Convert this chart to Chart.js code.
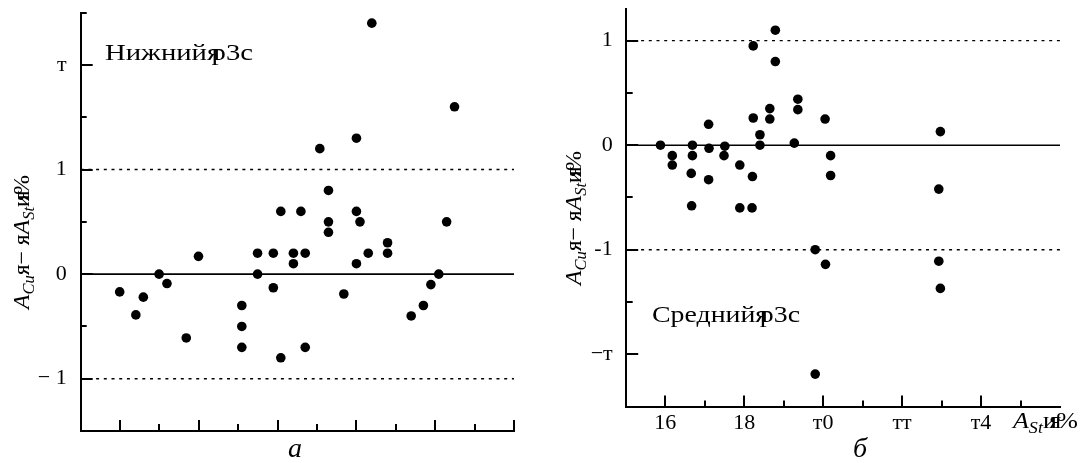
<!DOCTYPE html>
<html><head><meta charset="utf-8">
<script src="https://cdn.jsdelivr.net/npm/chart.js@4/dist/chart.umd.min.js"></script>
<style>
html,body{margin:0;padding:0;background:#fff;width:1081px;height:463px;overflow:hidden}
#a{position:absolute;left:0;top:0}
#b{position:absolute;left:540px;top:0}
</style></head>
<body>
<canvas id="a" width="540" height="463"></canvas>
<canvas id="b" width="541" height="463"></canvas>
<script>
// ---------- data (panel а: lower layer) ----------
const leftX = [0.99,1.40,1.59,1.99,2.19,2.68,2.99,4.09,4.09,4.09,4.49,4.49,4.89,4.89,5.08,5.08,5.40,5.40,5.59,5.70,5.70,6.07,6.29,6.29,6.29,7.39,9.49,7.00,7.00,7.09,9.29,7.79,7.79,7.30,7.00,6.68,9.09,8.89,8.70,8.39];
const leftY = [-0.17,-0.39,-0.22,0,-0.09,-0.61,0.17,-0.30,-0.50,-0.70,0.20,0,0.20,-0.13,0.60,-0.80,0.20,0.10,0.60,0.20,-0.70,1.20,0.80,0.50,0.40,2.40,1.60,1.30,0.60,0.50,0.50,0.30,0.20,0.20,0.10,-0.19,0,-0.10,-0.30,-0.40];
const leftYTickVals = [-1, 0, 1, 2];
const leftYTickLabels = ['\u2212 1', '0', '1', 'т'];
const leftXTicks = [1,2,3,4,5,6,7,8,9,10,11];
const leftXMajor = [1,3,5,7,9,11];
const leftYMinor = [-0.5, 0.5, 1.5, 2.5];

// ---------- data (panel б: middle layer) ----------
const rightX = [15.88,16.18,16.18,16.69,16.69,16.66,16.67,17.10,17.11,17.10,17.51,17.49,17.89,17.89,18.21,18.20,18.23,18.23,18.40,18.40,18.65,18.65,18.79,18.79,19.36,19.36,19.27,20.05,20.19,20.19,19.80,20.06,19.80,22.97,22.93,22.93,22.97];
const rightY = [0,-0.10,-0.19,0,-0.10,-0.27,-0.58,0.20,-0.03,-0.33,-0.01,-0.10,-0.19,-0.60,-0.30,-0.60,0.95,0.26,0.10,0,0.35,0.25,1.10,0.80,0.44,0.34,0.02,0.25,-0.10,-0.29,-1.00,-1.14,-2.19,0.13,-0.42,-1.11,-1.37];
const rightYTickVals = [-2, -1, 0, 1];
const rightYTickLabels = ['\u2212т', '-1', '0', '1'];
const rightYMinor = [-1.5, -0.5, 0.5];
const rightXTickVals = [16, 18, 20, 22, 24];
const rightXTickLabels = ['16', '18', 'т0', 'тт', 'т4'];
const rightXMinor = [17, 19, 21, 23, 25];

const refLevels = [1, 0, -1];

// ---------- styling helpers ----------
const SERIF = '"Liberation Serif", "DejaVu Serif", serif';
const F  = '23px ' + SERIF;
const FI = 'italic 23px ' + SERIF;
const FS = 'italic 16px ' + SERIF;
const FT = '24px ' + SERIF;

// draws a run of text pieces; optional target width stretches the run horizontally
function drawRich(ctx, x, y, segs, rot, align, width) {
  ctx.save();
  ctx.translate(x, y);
  ctx.rotate(rot);
  ctx.textBaseline = 'alphabetic';
  ctx.textAlign = 'left';
  ctx.fillStyle = '#000';
  let total = 0;
  segs.forEach(s => { ctx.font = s.f; s.w = ctx.measureText(s.t).width; total += s.w * (s.a ?? 1); });
  const sx = width ? width / total : 1;
  ctx.scale(sx, 1);
  let cx = align === 'center' ? -total / 2 : 0;
  segs.forEach(s => { ctx.font = s.f; ctx.fillText(s.t, cx, s.dy || 0); cx += s.w * (s.a ?? 1); });
  ctx.restore();
}

const yTitleSegs = () => [
  {t:'A', f:FI}, {t:'Cu', f:FS, dy:5}, {t:'я', f:F}, {t:'\u2212', f:F}, {t:' я', f:F},
  {t:'A', f:FI}, {t:'St', f:FS, dy:5}, {t:'и', f:F, a:0.45}, {t:'я', f:F, a:0.6}, {t:'%', f:F}
];

function tickPlugin(xt, yt, texts) {
  return {
    id: 'inTicks',
    afterDraw(chart) {
      const ctx = chart.ctx, xs = chart.scales.x, ys = chart.scales.y, ca = chart.chartArea;
      ctx.save();
      ctx.strokeStyle = '#000';
      ctx.lineWidth = 2;
      xt.forEach(([v, len]) => {
        const px = Math.round(xs.getPixelForValue(v));
        ctx.beginPath(); ctx.moveTo(px, ca.bottom); ctx.lineTo(px, ca.bottom - len); ctx.stroke();
      });
      yt.forEach(([v, len]) => {
        const py = Math.round(ys.getPixelForValue(v));
        ctx.beginPath(); ctx.moveTo(ca.left, py); ctx.lineTo(ca.left + len, py); ctx.stroke();
      });
      ctx.restore();
      texts(ctx, chart);
    }
  };
}

function refSets(xmin, xmax) {
  return refLevels.map(l => ({
    type: 'line',
    data: [{x: xmin, y: l}, {x: xmax, y: l}],
    borderColor: '#000',
    borderWidth: l === 0 ? 1.6 : 1.4,
    borderDash: l === 0 ? [] : [3, 4.7],
    pointRadius: 0,
    order: 2
  }));
}

function pts(xs, ys) { return xs.map((x, i) => ({x, y: ys[i]})); }

function labelFrom(vals, labels) {
  return v => { const i = vals.findIndex(t => Math.abs(t - v) < 1e-6); return i >= 0 ? labels[i] : ''; };
}

function fixSize(prop, val) {
  return s => { s[prop] = val; s.paddingTop = 0; s.paddingBottom = 0; s.paddingLeft = 0; s.paddingRight = 0; };
}

const common = {
  responsive: false,
  animation: false,
  devicePixelRatio: 1,
  events: [],
  plugins: { legend: {display: false}, tooltip: {enabled: false} }
};

// ---------- left chart ----------
new Chart(document.getElementById('a'), {
  type: 'scatter',
  data: {
    datasets: [
      { data: pts(leftX, leftY), backgroundColor: '#000', borderWidth: 0, pointRadius: 4.8, order: 0 },
      ...refSets(0, 11)
    ]
  },
  options: {
    ...common,
    layout: { padding: {left: 0, right: 26, top: 12.7, bottom: 0} },
    scales: {
      x: {
        type: 'linear', min: 0, max: 11,
        ticks: { display: false, stepSize: 1 },
        grid: { display: false, drawTicks: false },
        border: { display: true, color: '#000', width: 2 },
        afterFit: fixSize('height', 32)
      },
      y: {
        type: 'linear', min: -1.5, max: 2.5,
        ticks: { stepSize: 0.5, padding: 14, color: '#000', font: {family: SERIF, size: 22},
                 autoSkip: false, callback: labelFrom(leftYTickVals, leftYTickLabels) },
        grid: { display: false, drawTicks: false },
        border: { display: true, color: '#000', width: 2 },
        afterFit: fixSize('width', 80.7)
      }
    }
  },
  plugins: [tickPlugin(
    leftXTicks.map(v => [v, leftXMajor.includes(v) ? 11 : 7]),
    leftYTickVals.map(v => [v, 12]).concat(leftYMinor.map(v => [v, 6])),
    (ctx, chart) => {
      drawRich(ctx, 29, 242, yTitleSegs(), -Math.PI / 2, 'center', 134);
      drawRich(ctx, 105, 60, [{t:'Нижний', f:FT}, {t:'я', f:FT, a:0.35}, {t:'р3с', f:FT}], 0, 'left', 148);
      ctx.save(); ctx.font = 'italic 28px ' + SERIF; ctx.textAlign = 'center'; ctx.textBaseline = 'middle'; ctx.fillStyle = '#000';
      ctx.fillText('а', 295, 450); ctx.restore();
    }
  )]
});

// ---------- right chart ----------
new Chart(document.getElementById('b'), {
  type: 'scatter',
  data: {
    datasets: [
      { data: pts(rightX, rightY), backgroundColor: '#000', borderWidth: 0, pointRadius: 4.8, order: 0 },
      ...refSets(15, 26)
    ]
  },
  options: {
    ...common,
    layout: { padding: {left: 0, right: 21, top: 9.3, bottom: 0} },
    scales: {
      x: {
        type: 'linear', min: 15, max: 26,
        ticks: { stepSize: 1, padding: 4, color: '#000', font: {family: SERIF, size: 22},
                 autoSkip: false, maxRotation: 0, callback: labelFrom(rightXTickVals, rightXTickLabels) },
        grid: { display: false, drawTicks: false },
        border: { display: true, color: '#000', width: 2 },
        afterFit: fixSize('height', 56.5)
      },
      y: {
        type: 'linear', min: -2.5, max: 1.3,
        ticks: { stepSize: 0.5, padding: 13, color: '#000', font: {family: SERIF, size: 22},
                 autoSkip: false, callback: labelFrom(rightYTickVals, rightYTickLabels) },
        grid: { display: false, drawTicks: false },
        border: { display: true, color: '#000', width: 2 },
        afterFit: fixSize('width', 85.7)
      }
    }
  },
  plugins: [tickPlugin(
    rightXTickVals.map(v => [v, 11]).concat(rightXMinor.map(v => [v, 6])),
    rightYTickVals.map(v => [v, 12.5]).concat(rightYMinor.map(v => [v, 7])),
    (ctx, chart) => {
      drawRich(ctx, 41, 218, yTitleSegs(), -Math.PI / 2, 'center', 134);
      drawRich(ctx, 112, 322, [{t:'Средний', f:FT}, {t:'я', f:FT, a:0.35}, {t:'р3с', f:FT}], 0, 'left', 148);
      drawRich(ctx, 473, 428, [{t:'A', f:FI}, {t:'St', f:FS, dy:5}, {t:'и', f:F, a:0.45}, {t:'я', f:F, a:0.6}, {t:'%', f:F}], 0, 'left', 65);
      ctx.save(); ctx.font = 'italic 28px ' + SERIF; ctx.textAlign = 'center'; ctx.textBaseline = 'middle'; ctx.fillStyle = '#000';
      ctx.fillText('б', 320, 450); ctx.restore();
    }
  )]
});
</script>
</body></html>
